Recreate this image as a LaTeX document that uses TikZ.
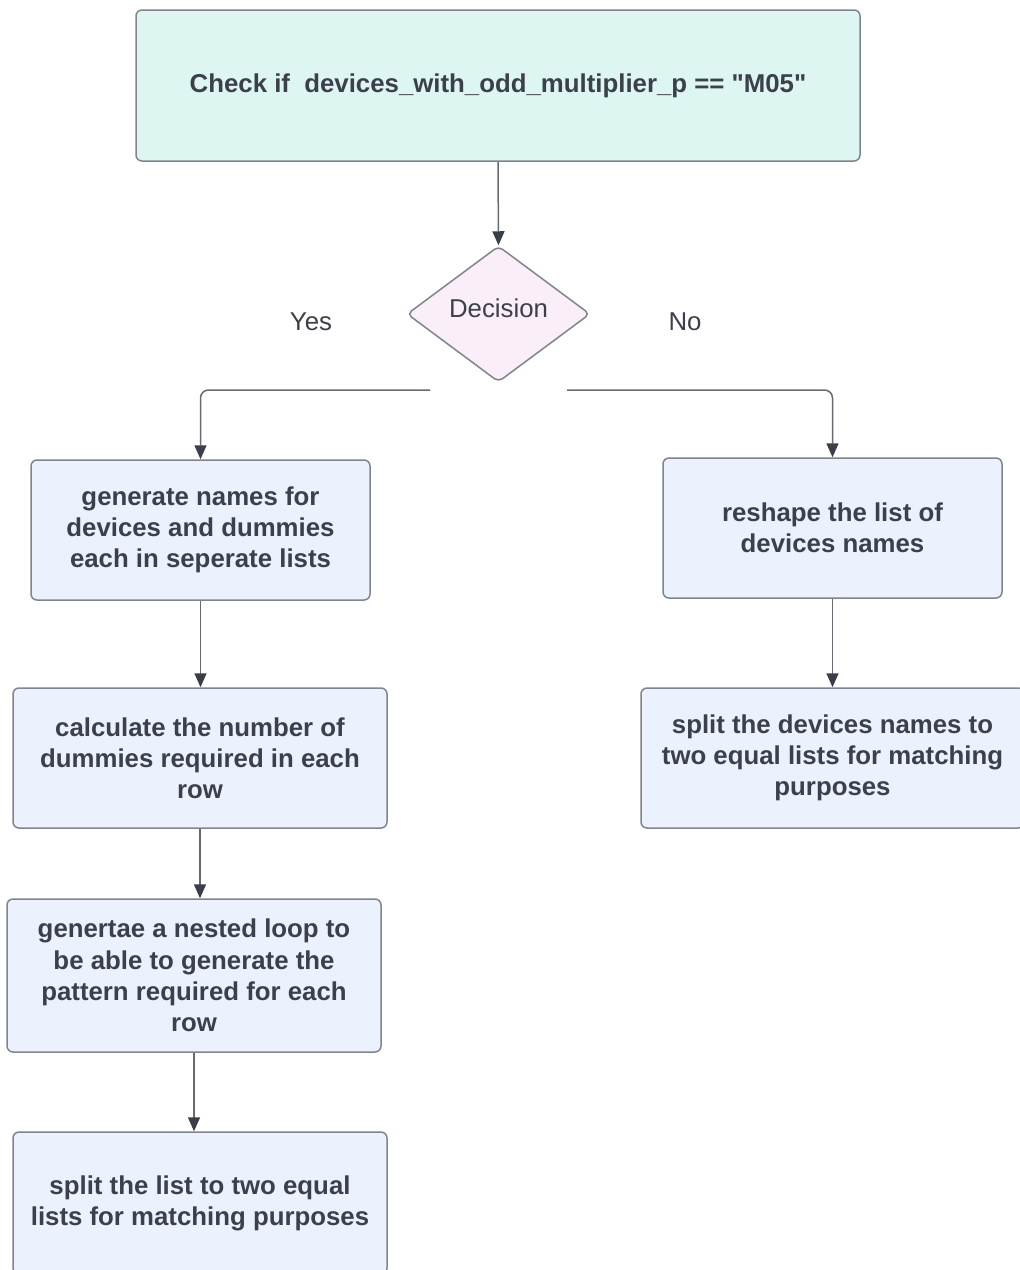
\documentclass[tikz,border=0pt]{standalone}
\usepackage{fontspec}
\setmainfont{Liberation Sans}
\newfontfamily\qfont{Liberation Sans}[Ligatures=ResetAll]
\usetikzlibrary{arrows.meta,shapes.geometric,calc}
\definecolor{txt}{HTML}{3C404A}
\definecolor{boxline}{HTML}{80848D}
\definecolor{conn}{HTML}{666A73}
\definecolor{tipc}{HTML}{3A3E48}
\definecolor{boxfill}{HTML}{ECF2FD}
\definecolor{topfill}{HTML}{DDF6F2}
\definecolor{decfill}{HTML}{FAEEF8}
\newcommand{\dq}{{\qfont"}}
\tikzset{
  procbox/.style={draw=boxline, fill=boxfill, line width=1.5pt, rounded corners=6pt,
    inner sep=0pt, align=center, text=txt,
    font=\bfseries\fontsize{25.8}{31.2}\selectfont},
  topbox/.style={procbox, fill=topfill},
  decision/.style={diamond, aspect=1.35, draw=boxline, fill=decfill, line width=1.5pt,
    rounded corners=5pt, inner sep=0pt, text=txt, minimum width=183pt, minimum height=136pt,
    font=\fontsize{25.8}{31}\selectfont, text depth=12pt},
  lbl/.style={text=txt, inner sep=0pt, font=\fontsize{25.8}{31}\selectfont},
  arr/.style={draw=conn, line width=1.5pt,
    -{Triangle[width=12pt,length=14pt,color=tipc,fill=tipc]}}
}
\begin{document}
\begin{tikzpicture}[x=1pt,y=-1pt]
\useasboundingbox (0,0) rectangle (1020,1270);
\clip (0,0) rectangle (1020,1270);
\fill[white] (0,0) rectangle (1020,1270);

\node[topbox, minimum width=724pt, minimum height=151pt] (top) at (498,85.5)
  {Check if\ \ devices\_with\_odd\_multiplier\_p == \dq M05\dq};
\node[decision] (dec) at (498.5,314) {Decision};
\node[lbl] (yes) at (311,322) {Yes};
\node[lbl] (no) at (685,322) {No};

\node[procbox, minimum width=339pt, minimum height=140pt] (A) at (200.5,530)
  {generate names for\\devices and dummies\\each in seperate lists};
\node[procbox, minimum width=374pt, minimum height=140pt] (B) at (200,758)
  {calculate the number of\\dummies required in each\\row};
\node[procbox, minimum width=374pt, minimum height=153pt] (C) at (194,975.5)
  {genertae a nested loop to\\be able to generate the\\pattern required for each\\row};
\node[procbox, minimum width=374pt, minimum height=142pt] (D) at (200,1203)
  {split the list to two equal\\lists for matching purposes};

\node[procbox, minimum width=339pt, minimum height=140pt] (R1) at (832.5,528)
  {reshape the list of\\devices names};
\node[procbox, minimum width=383pt, minimum height=140pt] (R2) at (832.5,758)
  {split the devices names to\\two equal lists for matching\\purposes};

\coordinate (ys) at (430,390);
\coordinate (ns) at (567,390);

\draw[arr] (top.south) -- (dec.north);
\draw[arr, rounded corners=8pt] (ys) -| (A.north);
\draw[arr, rounded corners=8pt] (ns) -| (R1.north);
\draw[arr] (A.south) -- (A.south |- B.north);
\draw[arr] (B.south) -- (B.south |- C.north);
\draw[arr] (C.south) -- (C.south |- D.north);
\draw[arr] (R1.south) -- (R1.south |- R2.north);
\end{tikzpicture}
\end{document}
